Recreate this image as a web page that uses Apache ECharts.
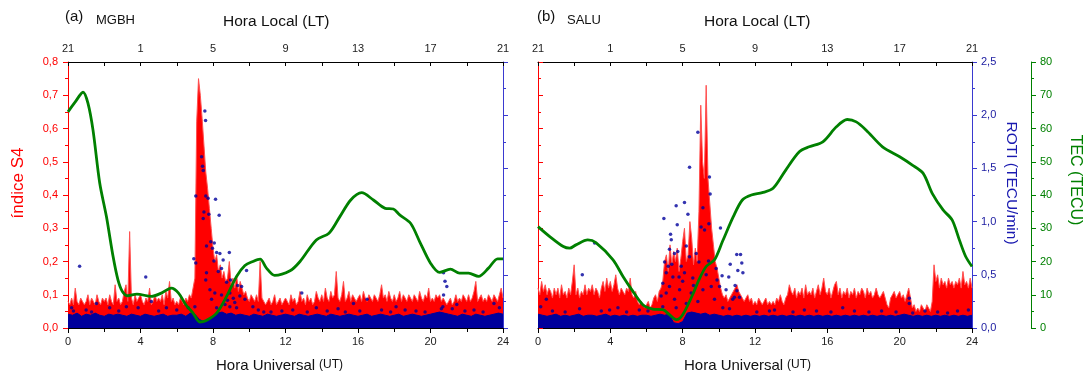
<!DOCTYPE html>
<html><head><meta charset="utf-8">
<script src="https://cdn.jsdelivr.net/npm/echarts@6.0.0/dist/echarts.min.js"></script>
<style>html,body{margin:0;padding:0;background:#fff}#c{width:1086px;height:378px}</style>
</head><body><div id="c"></div>
<script>
const FONT = "'Liberation Sans', Arial, sans-serif";
const ltLabels = ['21','1','5','9','13','17','21'];
const s4Step = 0.1;   // hours between S4 samples
const bandStep = 0.25; // hours between ROTI band samples

const s4Mgbh = [
.08,.07,.09,.07,.12,.08,.07,.09,.08,.07,
.08,.10,.07,.09,.08,.07,.10,.08,.07,.09,
.08,.09,.07,.10,.08,.07,.13,.08,.09,.07,
.08,.11,.13,.08,.29,.09,.07,.10,.08,.09,
.10,.08,.07,.09,.08,.12,.07,.08,.10,.08,
.09,.08,.10,.07,.11,.09,.14,.08,.09,.07,
.08,.07,.09,.08,.07,.09,.08,.10,.09,.12,
.15,.62,.75,.70,.63,.55,.47,.42,.36,.30,
.24,.20,.22,.17,.19,.15,.17,.14,.15,.20,
.13,.15,.12,.16,.11,.14,.12,.10,.11,.09,
.08,.10,.09,.08,.10,.08,.20,.09,.08,.07,
.08,.09,.07,.08,.10,.07,.08,.09,.07,.08,
.09,.08,.07,.10,.08,.09,.07,.08,.11,.08,
.09,.07,.10,.08,.09,.07,.08,.11,.09,.08,
.10,.08,.12,.09,.08,.11,.09,.10,.17,.09,
.08,.10,.14,.08,.09,.11,.08,.10,.09,.08,
.09,.10,.08,.11,.09,.08,.10,.09,.08,.10,
.09,.08,.10,.13,.09,.10,.08,.11,.09,.08,
.10,.08,.09,.11,.08,.10,.09,.08,.10,.09,
.08,.10,.09,.08,.11,.09,.08,.10,.09,.12,
.08,.09,.08,.10,.09,.10,.08,.09,.08,.07,
.08,.09,.07,.08,.10,.08,.09,.08,.10,.09,
.08,.10,.08,.09,.11,.14,.08,.09,.10,.08,
.09,.08,.10,.09,.08,.10,.09,.08,.10,.12,
.09];

const s4Salu = [
.12,.10,.14,.11,.13,.10,.12,.11,.09,.12,
.10,.12,.09,.13,.10,.11,.09,.12,.10,.14,
.19,.10,.12,.09,.11,.10,.13,.10,.12,.11,
.13,.10,.12,.11,.09,.12,.14,.11,.15,.12,
.14,.11,.13,.16,.12,.10,.12,.11,.10,.12,
.11,.15,.10,.09,.11,.08,.07,.08,.07,.06,
.07,.08,.06,.07,.09,.10,.08,.11,.12,.14,
.20,.22,.17,.25,.19,.23,.20,.24,.17,.21,
.26,.30,.20,.22,.32,.27,.19,.24,.20,.35,
.67,.50,.45,.73,.45,.45,.30,.25,.20,.18,
.15,.12,.10,.09,.10,.08,.09,.10,.11,.12,
.13,.11,.10,.09,.08,.09,.10,.08,.09,.07,
.08,.07,.09,.08,.07,.08,.09,.07,.08,.07,
.08,.07,.09,.08,.10,.08,.07,.09,.10,.13,
.11,.10,.12,.09,.11,.10,.12,.09,.13,.10,
.11,.10,.12,.09,.11,.13,.10,.12,.15,.11,
.10,.12,.09,.11,.13,.14,.10,.12,.09,.11,
.10,.12,.09,.11,.10,.12,.09,.11,.10,.12,
.11,.09,.12,.10,.11,.09,.10,.12,.10,.09,
.10,.11,.09,.07,.06,.09,.10,.11,.09,.10,
.11,.09,.10,.08,.10,.12,.09,.06,.07,.05,
.06,.05,.07,.06,.05,.07,.06,.05,.08,.19,
.14,.16,.12,.15,.13,.14,.12,.15,.13,.14,
.12,.14,.13,.15,.12,.17,.13,.14,.12,.15,
.12];

const rotiBandMgbh = [
.13,.12,.14,.11,.13,.12,.14,.12,.11,.13,.12,.13,
.12,.11,.13,.12,.11,.13,.12,.11,.12,.13,.11,.12,
.12,.13,.11,.14,.13,.08,.06,.07,.10,.14,.15,.13,
.14,.12,.13,.12,.11,.13,.12,.11,.13,.12,.11,.12,
.13,.12,.11,.13,.12,.11,.12,.13,.12,.11,.13,.12,
.11,.12,.13,.12,.11,.12,.13,.11,.12,.13,.12,.11,
.12,.13,.11,.12,.13,.12,.11,.12,.13,.14,.15,.14,
.13,.12,.11,.13,.12,.11,.13,.12,.11,.12,.13,.14,
.13];

const rotiBandSalu = [
.13,.12,.11,.12,.13,.11,.12,.11,.12,.13,.11,.12,
.12,.11,.12,.13,.11,.12,.11,.12,.11,.12,.11,.12,
.12,.11,.12,.13,.12,.13,.05,.04,.06,.14,.15,.14,
.13,.14,.12,.13,.12,.11,.12,.11,.12,.11,.12,.11,
.12,.11,.12,.11,.12,.11,.12,.11,.12,.11,.12,.11,
.12,.11,.12,.11,.12,.11,.12,.11,.12,.11,.12,.11,
.12,.11,.12,.11,.12,.11,.12,.11,.12,.13,.12,.11,
.12,.11,.12,.11,.12,.11,.12,.11,.12,.11,.12,.11,
.12];

const rotiDotsMgbh = [
[0.64,0.58],[4.29,0.48],[7.55,2.04],[7.59,1.95],[7.37,1.61],[7.42,1.52],[7.46,1.48],
[7.05,1.24],[7.6,1.24],[7.73,1.22],[8.14,1.21],[7.5,1.09],[7.77,1.07],[7.46,1.03],
[8.34,1.06],[7.88,0.81],[8.07,0.8],[7.64,0.77],[7.97,0.75],[8.2,0.71],[8.9,0.71],
[6.94,0.65],[7.05,0.61],[8.38,0.7],[8.05,0.63],[8.56,0.64],[8.47,0.56],[8.29,0.53],
[7.64,0.52],[7.6,0.45],[8.97,0.45],[8.75,0.43],[9.36,0.4],[9.58,0.39],[9.85,0.54],
[7.83,0.36],[8.1,0.33],[8.47,0.31],[8.93,0.33],[9.12,0.28],[9.48,0.3],[9.76,0.27],
[7.92,0.27],[8.66,0.22],[8.93,0.2],[9.3,0.19],[8.2,0.19],[6.63,0.19],[7.0,0.2],
[12.9,0.33],[3.22,0.2],[3.87,0.19],[4.6,0.25],[5.43,0.19],[2.3,0.19],[1.57,0.23],
[20.72,0.52],[20.8,0.44],[20.9,0.39],[20.72,0.31],[20.68,0.2],[21.45,0.22],[20.6,0.18],
[15.75,0.23],[18.1,0.2],[23.5,0.23],[13.7,0.19],[16.5,0.27],[9.2,0.24],[8.8,0.26],
[0.3,0.16],[1.0,0.17],[10.5,0.17],[11.8,0.16],[14.3,0.16],[17.3,0.17],[19.2,0.16],[22.4,0.17],
[0.2,0.19],[1.3,0.15],[2.8,0.16],[5.0,0.16],[6.0,0.17],[10.2,0.2],[11.2,0.15],[12.4,0.17],
[13.2,0.15],[14.9,0.18],[15.3,0.15],[16.1,0.16],[17.8,0.15],[18.6,0.17],[19.7,0.15],
[21.9,0.16],[22.9,0.15],[23.8,0.19],[21.2,0.18],[10.8,0.15]];

const rotiDotsSalu = [
[8.84,1.84],[8.38,1.51],[9.48,1.42],[9.52,1.26],[8.1,1.18],[7.64,1.15],[9.12,1.13],
[6.96,1.03],[8.29,1.07],[7.7,0.97],[9.02,0.95],[9.21,0.92],[9.45,0.98],[10.09,0.94],
[7.33,0.88],[7.37,0.83],[8.2,0.77],[7.27,0.74],[7.73,0.72],[8.75,0.7],[7.55,0.7],
[8.38,0.67],[10.99,0.69],[11.2,0.69],[8.9,0.62],[9.43,0.63],[10.63,0.6],[11.27,0.61],
[9.85,0.56],[11.05,0.54],[10.18,0.49],[10.55,0.48],[11.33,0.52],[7.92,0.58],[7.09,0.52],
[7.46,0.48],[8.1,0.52],[8.56,0.47],[6.9,0.42],[7.27,0.39],[7.83,0.36],[8.47,0.33],
[9.12,0.36],[9.58,0.39],[10.04,0.39],[10.4,0.36],[10.86,0.29],[11.14,0.29],[10.77,0.27],
[9.76,0.27],[8.84,0.25],[8.2,0.23],[7.55,0.27],[6.81,0.3],[7.09,0.33],[6.9,0.2],
[7.64,0.19],[10.22,0.19],[10.59,0.18],[2.45,0.5],[3.13,0.8],[0.15,0.2],[0.46,0.27],
[2.3,0.18],[4.42,0.19],[3.96,0.17],[6.08,0.16],[14.73,0.17],[16.85,0.19],[20.53,0.28],
[20.53,0.23],[20.72,0.14],[22.65,0.14],[13.08,0.17],[7.0,0.62],[7.2,0.58],[7.4,0.6],
[8.0,0.44],[8.6,0.4],[9.3,0.5],[9.9,0.45],[10.9,0.4],[11.0,0.35],[7.8,0.48],
[0.8,0.16],[1.5,0.15],[3.5,0.16],[4.9,0.15],[5.6,0.17],[12.1,0.15],[12.8,0.16],
[14.1,0.15],[15.4,0.16],[16.2,0.15],[17.5,0.16],[18.3,0.15],[19.0,0.16],[19.8,0.15],
[21.4,0.16],[22.1,0.15],[23.2,0.16],[23.8,0.17]];

const tecMgbh = [
[0,65],[0.4,68],[0.83,70.9],[1.1,67.6],[1.38,59.5],[1.75,43.6],[2.12,33.5],[2.49,21.4],
[2.76,14.4],[3.0,11],[3.3,9.7],[3.8,10.2],[4.6,9.5],[5.15,10.5],[5.7,12],[6.1,10.5],
[6.5,7],[6.9,4.5],[7.27,1.8],[7.6,2.2],[8.2,4.5],[8.75,9.5],[9.3,15.5],[9.76,18.8],
[10.2,20],[10.6,20.7],[10.95,18],[11.4,15.8],[12.25,17.2],[12.8,20],[13.7,26.5],
[14.4,28.5],[15,33.5],[15.6,38.5],[16.2,40.7],[16.85,38.5],[17.5,36],[17.95,35.8],
[18.3,34],[18.9,31.5],[19.4,26],[20,19.5],[20.5,16.7],[21.1,17.7],[21.6,16.5],
[22.1,16.5],[22.65,15.5],[23.2,18],[23.7,20.8],[24,20.8]];

const tecSalu = [
[0,30.5],[0.65,27.5],[1.4,24.5],[1.75,24],[2.1,25],[2.75,26.5],[3.2,25.7],[4.15,20.5],
[4.7,15.5],[5.25,11],[5.8,7],[6.35,5.7],[6.9,5.5],[7.27,4],[7.65,2.5],[8.0,4],
[8.55,10],[8.9,14.5],[9.3,18.5],[9.76,20.5],[10.2,26],[10.8,33.5],[11.3,38.5],
[11.8,40],[12.4,40.7],[13.0,42],[13.7,47.5],[14.45,53],[15.0,54.5],[15.75,56],
[16.5,60.5],[17.1,62.7],[17.6,62],[18.15,59.5],[19.05,54.5],[20.0,51.5],[20.7,49],
[21.3,46.5],[21.8,40.5],[22.4,35.5],[22.9,32.5],[23.3,26.5],[23.65,21.5],[24,18.5]];

const RED = '#ff0000', NAVY = '#00009c', AXBLUE = '#3a3ad0', GREEN = '#008000';
const comma = v => v.toFixed(1).replace('.', ',');
const idx = (arr, step) => arr.map((v, i) => [+(i * step).toFixed(2), v]);

function utAxis(g) {
  return { type:'value', gridIndex:g, min:0, max:24, interval:4, position:'bottom',
    axisLine:{onZero:false, lineStyle:{color:'#000', width:1}},
    axisTick:{length:5, lineStyle:{color:'#000'}},
    minorTick:{show:true, splitNumber:2, length:4, lineStyle:{color:'#000'}},
    axisLabel:{color:'#222', fontSize:11, margin:8, fontFamily:FONT},
    splitLine:{show:false}, minorSplitLine:{show:false} };
}
function ltAxis(g) {
  return { type:'value', gridIndex:g, min:0, max:24, interval:4, position:'top',
    axisLine:{onZero:false, lineStyle:{color:'#000', width:1}},
    axisTick:{inside:true, length:4, lineStyle:{color:'#000'}},
    minorTick:{show:true, splitNumber:2, length:4, lineStyle:{color:'#000'}},
    axisLabel:{color:'#222', fontSize:11, margin:8, fontFamily:FONT,
      formatter: v => ltLabels[Math.round(v / 4)]},
    splitLine:{show:false} };
}
function s4Axis(g, labels) {
  return { type:'value', gridIndex:g, min:0, max:0.8, interval:0.1, position:'left',
    axisLine:{show:true, onZero:false, lineStyle:{color:RED, width:1}},
    axisTick:{show:true, inside:!labels, length:5, lineStyle:{color:RED}},
    minorTick:{show:true, splitNumber:2, length:3, lineStyle:{color:RED}},
    axisLabel:{show:labels, color:RED, fontSize:11, margin:10, fontFamily:FONT, formatter:comma},
    splitLine:{show:false} };
}
function rotiAxis(g, labels) {
  return { type:'value', gridIndex:g, min:0, max:2.5, interval:0.5, position:'right',
    axisLine:{show:true, onZero:false, lineStyle:{color:AXBLUE, width:1}},
    axisTick:{show:true, length:5, lineStyle:{color:AXBLUE}},
    minorTick:{show:true, splitNumber:2, length:3, lineStyle:{color:AXBLUE}},
    axisLabel:{show:labels, color:'#1a1aa0', fontSize:11, margin:9, fontFamily:FONT, formatter:comma},
    splitLine:{show:false} };
}
function tecAxis(g, shown) {
  return { type:'value', gridIndex:g, min:0, max:80, interval:10, position:'right', offset:59, show:shown,
    axisLine:{show:true, onZero:false, lineStyle:{color:GREEN, width:1}},
    axisTick:{show:true, length:5, lineStyle:{color:GREEN}},
    minorTick:{show:true, splitNumber:2, length:3, lineStyle:{color:GREEN}},
    axisLabel:{color:GREEN, fontSize:11, margin:9, fontFamily:FONT},
    splitLine:{show:false} };
}

function panelSeries(xi, yS4, yRoti, yTec, s4, band, dots, tec) {
  return [
    { type:'line', xAxisIndex:xi, yAxisIndex:yS4, data:idx(s4, s4Step), symbol:'none', z:2,
      lineStyle:{color:'#ff5050', width:1}, areaStyle:{color:RED, opacity:1}, animation:false },
    { type:'line', xAxisIndex:xi, yAxisIndex:yRoti, data:idx(band, bandStep), symbol:'none', z:3,
      lineStyle:{color:NAVY, width:1}, areaStyle:{color:NAVY, opacity:1}, animation:false },
    { type:'scatter', xAxisIndex:xi, yAxisIndex:yRoti, data:dots, symbolSize:3.5, z:4,
      itemStyle:{color:NAVY}, animation:false },
    { type:'line', xAxisIndex:xi, yAxisIndex:yTec, data:tec, symbol:'none', smooth:0.3, z:5,
      lineStyle:{color:GREEN, width:2.8}, animation:false }
  ];
}

const txt = (x, y, text, size, color, extra) => Object.assign({ type:'text', x, y,
  style:{ text, fontSize:size, fill:color, fontFamily:FONT, textAlign:'left', textVerticalAlign:'middle' } }, extra || {});

const chart = echarts.init(document.getElementById('c'), null, {renderer:'canvas'});
chart.setOption({
  backgroundColor:'#fff',
  animation:false,
  grid:[{left:68, top:62, width:435, height:266}, {left:538, top:62, width:434, height:266}],
  xAxis:[utAxis(0), ltAxis(0), utAxis(1), ltAxis(1)],
  yAxis:[s4Axis(0, true), rotiAxis(0, false), tecAxis(0, false), s4Axis(1, false), rotiAxis(1, true), tecAxis(1, true)],
  series:[
    ...panelSeries(0, 0, 1, 2, s4Mgbh, rotiBandMgbh, rotiDotsMgbh, tecMgbh),
    ...panelSeries(2, 3, 4, 5, s4Salu, rotiBandSalu, rotiDotsSalu, tecSalu)
  ],
  graphic:[
    txt(65, 17, '(a)', 15, '#111'),
    txt(96, 20, 'MGBH', 13, '#111'),
    txt(223, 22, 'Hora Local (LT)', 15.5, '#111'),
    txt(537, 17, '(b)', 15, '#111'),
    txt(567, 20, 'SALU', 13, '#111'),
    txt(704, 22, 'Hora Local (LT)', 15.5, '#111'),
    txt(216, 366, 'Hora Universal', 15, '#111'),
    txt(319, 365, '(UT)', 12, '#111'),
    txt(684, 366, 'Hora Universal', 15, '#111'),
    txt(787, 365, '(UT)', 12, '#111'),
    { type:'text', x:18, y:183, rotation:Math.PI/2,
      style:{text:'índice S4', fontSize:17, fill:RED, fontFamily:FONT, textAlign:'center', textVerticalAlign:'middle'} },
    { type:'text', x:1011, y:183, rotation:-Math.PI/2,
      style:{text:'ROTI (TECU/min)', fontSize:15.5, fill:'#1a1ab0', fontFamily:FONT, textAlign:'center', textVerticalAlign:'middle'} },
    { type:'text', x:1075, y:180, rotation:-Math.PI/2,
      style:{text:'TEC (TECU)', fontSize:16, fill:GREEN, fontFamily:FONT, textAlign:'center', textVerticalAlign:'middle'} }
  ]
});
</script></body></html>
